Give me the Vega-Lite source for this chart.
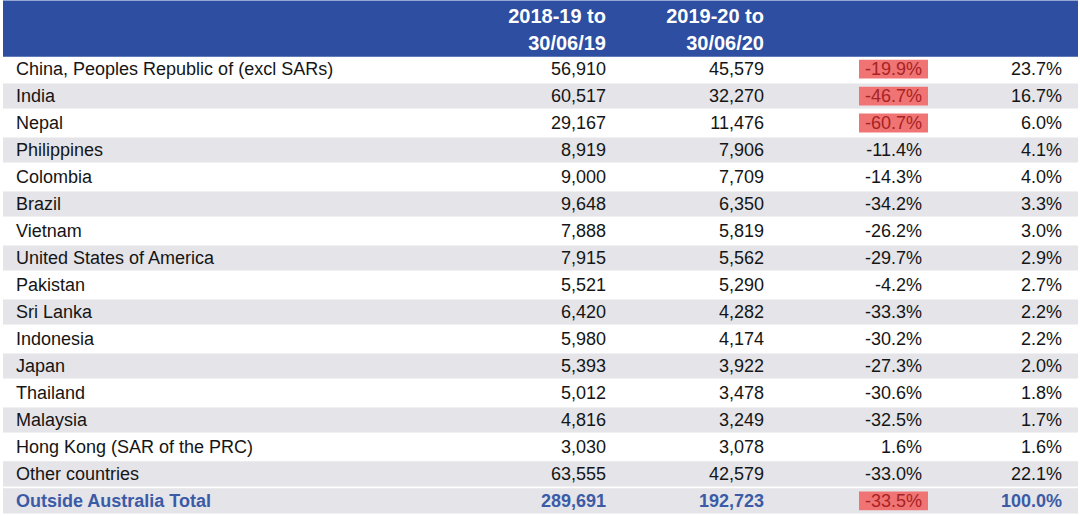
{
  "$schema": "https://vega.github.io/schema/vega-lite/v6.json",
  "width": 1080,
  "height": 516,
  "padding": 0,
  "autosize": "none",
  "background": "#ffffff",
  "config": {"view": {"stroke": null}, "text": {"font": "Liberation Sans", "fontSize": 18, "baseline": "middle", "dy": 1}},
  "datasets": {
    "rows": [
      {"country": "China, Peoples Republic of (excl SARs)", "y1819": 56910, "y1920": 45579, "change": -19.9, "share": 23.7, "flag": true},
      {"country": "India", "y1819": 60517, "y1920": 32270, "change": -46.7, "share": 16.7, "flag": true},
      {"country": "Nepal", "y1819": 29167, "y1920": 11476, "change": -60.7, "share": 6.0, "flag": true},
      {"country": "Philippines", "y1819": 8919, "y1920": 7906, "change": -11.4, "share": 4.1, "flag": false},
      {"country": "Colombia", "y1819": 9000, "y1920": 7709, "change": -14.3, "share": 4.0, "flag": false},
      {"country": "Brazil", "y1819": 9648, "y1920": 6350, "change": -34.2, "share": 3.3, "flag": false},
      {"country": "Vietnam", "y1819": 7888, "y1920": 5819, "change": -26.2, "share": 3.0, "flag": false},
      {"country": "United States of America", "y1819": 7915, "y1920": 5562, "change": -29.7, "share": 2.9, "flag": false},
      {"country": "Pakistan", "y1819": 5521, "y1920": 5290, "change": -4.2, "share": 2.7, "flag": false},
      {"country": "Sri Lanka", "y1819": 6420, "y1920": 4282, "change": -33.3, "share": 2.2, "flag": false},
      {"country": "Indonesia", "y1819": 5980, "y1920": 4174, "change": -30.2, "share": 2.2, "flag": false},
      {"country": "Japan", "y1819": 5393, "y1920": 3922, "change": -27.3, "share": 2.0, "flag": false},
      {"country": "Thailand", "y1819": 5012, "y1920": 3478, "change": -30.6, "share": 1.8, "flag": false},
      {"country": "Malaysia", "y1819": 4816, "y1920": 3249, "change": -32.5, "share": 1.7, "flag": false},
      {"country": "Hong Kong (SAR of the PRC)", "y1819": 3030, "y1920": 3078, "change": 1.6, "share": 1.6, "flag": false},
      {"country": "Other countries", "y1819": 63555, "y1920": 42579, "change": -33.0, "share": 22.1, "flag": false},
      {"country": "Outside Australia Total", "y1819": 289691, "y1920": 192723, "change": -33.5, "share": 100.0, "flag": true}
    ],
    "header": [
      {"country": "h1", "c1": "2018-19 to", "c2": "2019-20 to"},
      {"country": "h2", "c1": "30/06/19", "c2": "30/06/20"}
    ]
  },
  "data": {"name": "rows"},
  "transform": [
    {"window": [{"op": "row_number", "as": "idx"}]},
    {"calculate": "replace(format(datum.change, '.1f'), '\u2212', '-') + '%'", "as": "changeLabel"},
    {"calculate": "format(datum.share, '.1f') + '%'", "as": "shareLabel"},
    {"calculate": "datum.country == 'Outside Australia Total'", "as": "isTotal"}
  ],
  "encoding": {
    "y": {
      "field": "country",
      "type": "nominal",
      "axis": null,
      "sort": null,
      "scale": {
        "domain": ["h1", "h2", "China, Peoples Republic of (excl SARs)", "India", "Nepal", "Philippines", "Colombia", "Brazil", "Vietnam", "United States of America", "Pakistan", "Sri Lanka", "Indonesia", "Japan", "Thailand", "Malaysia", "Hong Kong (SAR of the PRC)", "Other countries", "Outside Australia Total"],
        "paddingInner": 0,
        "paddingOuter": 0.06
      }
    }
  },
  "layer": [
    {
      "data": {"name": "header"},
      "transform": [],
      "mark": {"type": "bar", "color": "#2D4EA1", "height": {"band": 1.08}},
      "encoding": {
        "x": {"datum": 3, "type": "quantitative", "axis": null, "scale": {"domain": [0, 1080]}},
        "x2": {"datum": 1078}
      }
    },
    {
      "transform": [{"filter": "datum.idx % 2 == 0 || datum.isTotal"}],
      "mark": {"type": "bar", "color": "#E4E4E9", "height": {"band": 0.93}},
      "encoding": {
        "x": {"datum": 3, "type": "quantitative", "axis": null, "scale": {"domain": [0, 1080]}},
        "x2": {"datum": 1078}
      }
    },
    {
      "transform": [{"filter": "datum.flag"}],
      "mark": {"type": "bar", "color": "#F07474", "height": {"band": 0.7}},
      "encoding": {
        "x": {"datum": 859, "type": "quantitative", "axis": null, "scale": {"domain": [0, 1080]}},
        "x2": {"datum": 928}
      }
    },
    {
      "data": {"name": "header"},
      "transform": [],
      "mark": {"type": "text", "align": "right", "fontWeight": "bold", "fontSize": 20, "color": "#ffffff", "dy": 2},
      "encoding": {
        "x": {"datum": 606, "type": "quantitative", "axis": null, "scale": {"domain": [0, 1080]}},
        "text": {"field": "c1"}
      }
    },
    {
      "data": {"name": "header"},
      "transform": [],
      "mark": {"type": "text", "align": "right", "fontWeight": "bold", "fontSize": 20, "color": "#ffffff", "dy": 2},
      "encoding": {
        "x": {"datum": 764, "type": "quantitative", "axis": null, "scale": {"domain": [0, 1080]}},
        "text": {"field": "c2"}
      }
    },
    {
      "transform": [{"filter": "!datum.isTotal"}],
      "layer": [
        {
          "mark": {"type": "text", "align": "left", "color": "#151515"},
          "encoding": {
            "x": {"datum": 16, "type": "quantitative", "axis": null, "scale": {"domain": [0, 1080]}},
            "text": {"field": "country"}
          }
        },
        {
          "mark": {"type": "text", "align": "right", "color": "#151515"},
          "encoding": {
            "x": {"datum": 606, "type": "quantitative", "axis": null, "scale": {"domain": [0, 1080]}},
            "text": {"field": "y1819", "format": ","}
          }
        },
        {
          "mark": {"type": "text", "align": "right", "color": "#151515"},
          "encoding": {
            "x": {"datum": 764, "type": "quantitative", "axis": null, "scale": {"domain": [0, 1080]}},
            "text": {"field": "y1920", "format": ","}
          }
        },
        {
          "mark": {"type": "text", "align": "right"},
          "encoding": {
            "x": {"datum": 922, "type": "quantitative", "axis": null, "scale": {"domain": [0, 1080]}},
            "text": {"field": "changeLabel"},
            "color": {"condition": {"test": "datum.flag", "value": "#A82323"}, "value": "#151515"}
          }
        },
        {
          "mark": {"type": "text", "align": "right", "color": "#151515"},
          "encoding": {
            "x": {"datum": 1062, "type": "quantitative", "axis": null, "scale": {"domain": [0, 1080]}},
            "text": {"field": "shareLabel"}
          }
        }
      ]
    },
    {
      "transform": [{"filter": "datum.isTotal"}],
      "layer": [
        {
          "mark": {"type": "text", "align": "left", "color": "#3B5BA6", "fontWeight": "bold"},
          "encoding": {
            "x": {"datum": 16, "type": "quantitative", "axis": null, "scale": {"domain": [0, 1080]}},
            "text": {"field": "country"}
          }
        },
        {
          "mark": {"type": "text", "align": "right", "color": "#3B5BA6", "fontWeight": "bold"},
          "encoding": {
            "x": {"datum": 606, "type": "quantitative", "axis": null, "scale": {"domain": [0, 1080]}},
            "text": {"field": "y1819", "format": ","}
          }
        },
        {
          "mark": {"type": "text", "align": "right", "color": "#3B5BA6", "fontWeight": "bold"},
          "encoding": {
            "x": {"datum": 764, "type": "quantitative", "axis": null, "scale": {"domain": [0, 1080]}},
            "text": {"field": "y1920", "format": ","}
          }
        },
        {
          "mark": {"type": "text", "align": "right", "color": "#A82323"},
          "encoding": {
            "x": {"datum": 922, "type": "quantitative", "axis": null, "scale": {"domain": [0, 1080]}},
            "text": {"field": "changeLabel"}
          }
        },
        {
          "mark": {"type": "text", "align": "right", "color": "#3B5BA6", "fontWeight": "bold"},
          "encoding": {
            "x": {"datum": 1062, "type": "quantitative", "axis": null, "scale": {"domain": [0, 1080]}},
            "text": {"field": "shareLabel"}
          }
        }
      ]
    }
  ]
}
